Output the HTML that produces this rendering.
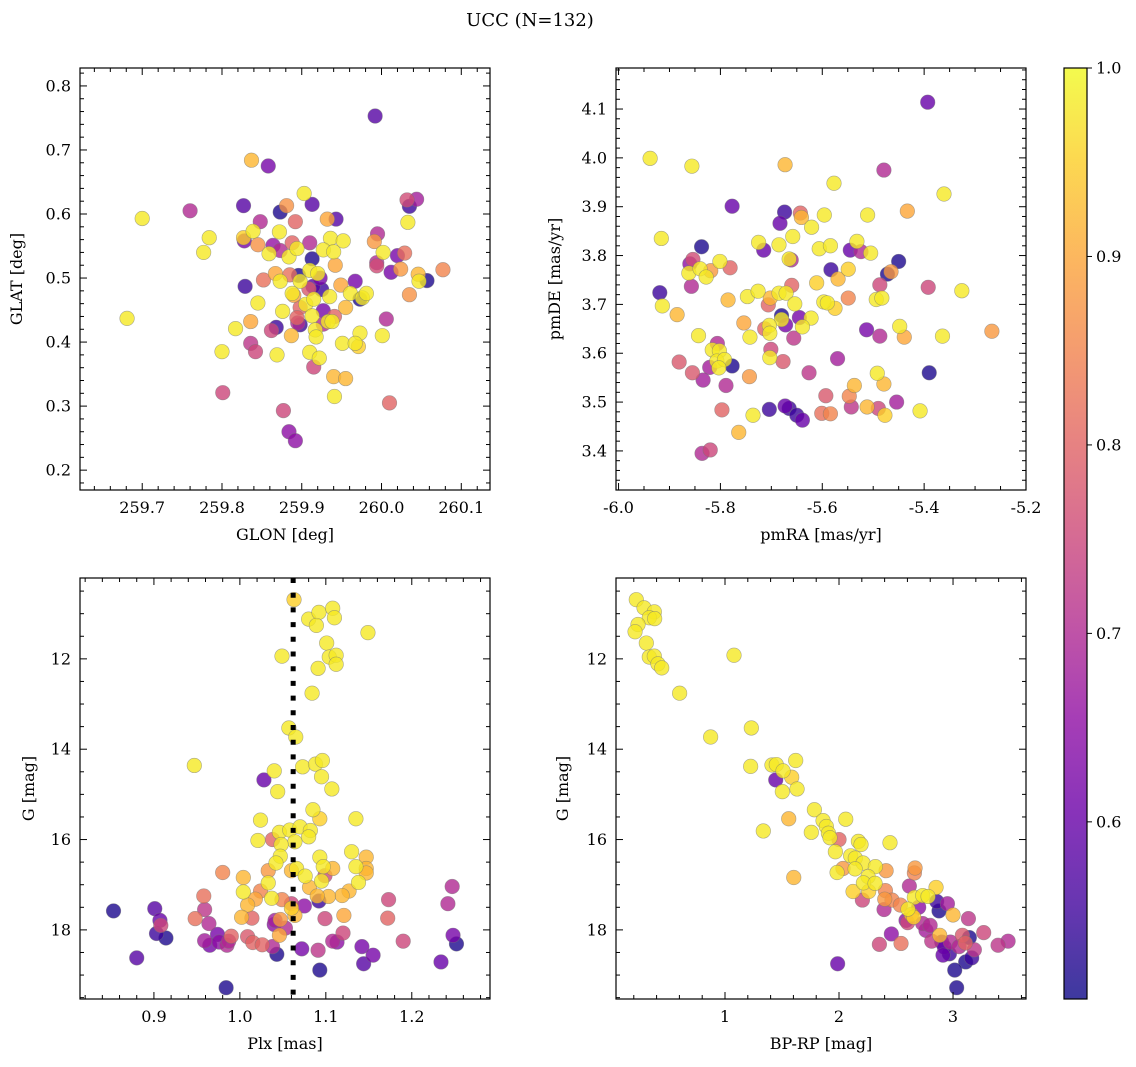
<!DOCTYPE html>
<html><head><meta charset="utf-8">
<style>
html,body{margin:0;padding:0;background:#fff;}
svg{display:block;font-family:"DejaVu Serif","Liberation Serif",serif;}
</style></head>
<body>
<svg id="fig" width="1136" height="1067" viewBox="0 0 1136 1067">
<text x="530" y="26" font-size="18" text-anchor="middle">UCC (N=132)</text>
</svg>
<script>
const p1x=[259.992,259.837,259.858,259.903,259.827,259.913,259.881,259.873,259.760,259.700,260.032,260.044,260.035,259.932,259.943,259.848,259.892,260.033,259.784,259.777,259.827,259.828,259.839,259.872,259.845,259.864,259.888,259.910,259.873,259.859,259.884,259.894,259.936,259.952,259.927,259.940,259.995,259.991,260.002,260.020,260.029,259.913,259.942,259.994,259.994,260.012,260.024,260.046,260.057,260.047,260.077,259.867,259.885,259.896,259.910,259.920,259.923,259.852,259.873,259.898,259.829,259.914,259.925,259.909,259.967,259.949,259.961,259.973,259.976,259.981,260.035,259.888,259.890,259.935,259.845,259.905,259.915,259.898,259.927,259.955,259.876,259.894,259.898,259.895,259.913,259.941,259.933,259.938,259.927,260.006,259.681,259.817,259.836,259.868,259.862,259.887,259.917,259.918,259.973,260.001,259.836,259.842,259.800,259.869,259.910,259.922,259.951,259.967,259.971,259.915,259.940,259.955,259.941,259.801,260.010,259.877,259.884,259.892];
const p1y=[0.753,0.684,0.675,0.632,0.613,0.615,0.613,0.603,0.605,0.593,0.622,0.623,0.612,0.592,0.592,0.588,0.588,0.587,0.563,0.540,0.563,0.558,0.573,0.572,0.552,0.551,0.555,0.555,0.543,0.538,0.533,0.546,0.562,0.558,0.544,0.541,0.569,0.557,0.540,0.535,0.539,0.530,0.520,0.524,0.519,0.509,0.514,0.506,0.496,0.495,0.513,0.507,0.505,0.504,0.512,0.507,0.500,0.497,0.495,0.495,0.487,0.487,0.482,0.483,0.495,0.489,0.476,0.467,0.469,0.476,0.474,0.476,0.473,0.471,0.461,0.459,0.467,0.454,0.449,0.454,0.448,0.438,0.427,0.430,0.441,0.440,0.432,0.432,0.428,0.436,0.437,0.421,0.432,0.423,0.418,0.410,0.419,0.408,0.414,0.410,0.398,0.385,0.385,0.380,0.384,0.375,0.398,0.398,0.393,0.361,0.346,0.343,0.315,0.321,0.305,0.293,0.260,0.246];
const p1c=[.58,.92,.62,.98,.58,.58,.87,.52,.7,.98,.76,.68,.55,.9,.58,.7,.8,.98,.98,.98,.95,.62,.98,.98,.87,.66,.8,.7,.7,.98,.98,.98,.98,.98,.98,.98,.7,.88,.98,.62,.82,.52,.9,.7,.76,.62,.88,.92,.52,.98,.85,.9,.82,.52,.98,.98,.62,.82,.98,.98,.55,.58,.55,.78,.62,.9,.98,.52,.98,.98,.87,.98,.9,.98,.98,.98,.98,.8,.62,.92,.98,.8,.55,.7,.98,.8,.98,.98,.7,.7,.98,.98,.9,.55,.75,.92,.98,.98,.98,.98,.72,.75,.98,.98,.98,.98,.98,.98,.95,.75,.92,.92,.98,.75,.8,.75,.65,.65];

const p2x=[-5.393,-5.938,-5.856,-5.673,-5.479,-5.577,-5.361,-5.777,-5.674,-5.643,-5.641,-5.683,-5.596,-5.511,-5.433,-5.621,-5.916,-5.658,-5.725,-5.685,-5.715,-5.606,-5.584,-5.532,-5.545,-5.524,-5.505,-5.837,-5.854,-5.860,-5.862,-5.840,-5.819,-5.828,-5.801,-5.781,-5.665,-5.661,-5.583,-5.549,-5.450,-5.472,-5.465,-5.857,-5.919,-5.914,-5.885,-5.785,-5.747,-5.726,-5.702,-5.685,-5.671,-5.660,-5.706,-5.654,-5.611,-5.569,-5.597,-5.590,-5.575,-5.549,-5.494,-5.483,-5.487,-5.392,-5.326,-5.267,-5.680,-5.680,-5.672,-5.645,-5.622,-5.639,-5.754,-5.713,-5.704,-5.703,-5.742,-5.656,-5.843,-5.513,-5.487,-5.448,-5.439,-5.364,-5.806,-5.816,-5.802,-5.807,-5.792,-5.803,-5.777,-5.821,-5.881,-5.855,-5.834,-5.789,-5.743,-5.701,-5.703,-5.677,-5.626,-5.570,-5.492,-5.479,-5.537,-5.390,-5.593,-5.547,-5.543,-5.512,-5.490,-5.477,-5.454,-5.408,-5.797,-5.736,-5.704,-5.673,-5.665,-5.650,-5.639,-5.601,-5.584,-5.764,-5.836,-5.820];
const p2y=[4.114,3.999,3.983,3.986,3.975,3.948,3.926,3.901,3.889,3.887,3.878,3.866,3.883,3.883,3.891,3.858,3.835,3.839,3.827,3.822,3.811,3.814,3.820,3.829,3.811,3.808,3.805,3.818,3.792,3.783,3.764,3.773,3.769,3.756,3.788,3.775,3.793,3.791,3.771,3.772,3.788,3.762,3.767,3.737,3.724,3.697,3.679,3.709,3.716,3.727,3.713,3.723,3.723,3.739,3.699,3.701,3.744,3.752,3.705,3.703,3.692,3.713,3.710,3.713,3.740,3.735,3.728,3.645,3.677,3.669,3.658,3.673,3.672,3.654,3.662,3.650,3.657,3.641,3.633,3.631,3.636,3.648,3.635,3.655,3.633,3.635,3.620,3.607,3.605,3.584,3.587,3.570,3.574,3.571,3.582,3.560,3.545,3.534,3.552,3.608,3.591,3.583,3.560,3.589,3.559,3.537,3.534,3.560,3.513,3.512,3.490,3.490,3.487,3.473,3.500,3.482,3.484,3.473,3.485,3.492,3.487,3.473,3.463,3.477,3.476,3.438,3.395,3.402];
const p2c=[.6,.98,.98,.92,.7,.98,.98,.6,.55,.8,.92,.6,.98,.98,.9,.98,.98,.98,.98,.98,.6,.98,.98,.98,.6,.7,.98,.52,.76,.65,.98,.98,.88,.98,.98,.8,.98,.7,.55,.95,.52,.52,.88,.7,.55,.98,.92,.92,.98,.98,.92,.98,.98,.8,.8,.98,.95,.92,.98,.98,.95,.85,.98,.98,.75,.75,.98,.88,.52,.98,.62,.62,.98,.98,.9,.8,.98,.98,.98,.72,.98,.62,.7,.98,.9,.98,.7,.98,.98,.98,.98,.98,.52,.68,.78,.78,.68,.7,.88,.75,.98,.78,.72,.68,.98,.92,.92,.52,.78,.85,.72,.92,.75,.95,.68,.98,.8,.98,.55,.6,.55,.55,.6,.82,.85,.92,.7,.75];

const p3x=[1.063,1.080,1.092,1.089,1.108,1.110,1.149,1.101,1.104,1.112,1.112,1.091,1.049,1.084,1.057,1.065,0.947,1.040,1.028,1.044,1.073,1.088,1.096,1.095,1.107,1.085,1.093,1.135,1.024,1.046,1.058,1.070,1.082,1.080,1.064,1.048,1.021,1.038,1.047,1.042,1.093,1.097,1.108,1.130,1.147,1.135,1.147,1.147,1.066,1.060,1.076,1.099,1.095,1.138,1.033,1.033,0.980,1.004,1.004,1.024,1.081,1.127,1.119,1.103,1.090,1.037,1.049,1.018,1.009,0.958,0.959,0.901,0.853,1.060,1.075,1.092,1.173,1.247,1.242,1.060,1.064,1.002,1.014,0.948,0.907,0.908,0.964,1.041,1.047,1.040,1.053,1.099,1.121,1.172,0.903,0.914,0.974,0.990,1.009,1.046,1.120,0.959,0.965,0.976,0.985,0.987,1.015,1.026,1.038,1.108,1.113,1.190,1.248,1.252,1.043,1.072,1.091,1.142,1.155,0.880,1.144,1.234,1.093,0.984];
const p3y=[10.69,11.12,10.97,11.26,10.88,11.09,11.42,11.65,11.96,11.92,12.12,12.21,11.94,12.76,13.53,13.73,14.36,14.48,14.68,14.94,14.39,14.33,14.25,14.61,14.88,15.34,15.54,15.54,15.57,15.84,15.79,15.72,15.80,15.94,16.05,16.11,16.02,16.00,16.37,16.52,16.39,16.60,16.64,16.27,16.39,16.60,16.64,16.74,16.64,16.69,16.81,16.80,16.92,16.95,16.69,16.96,16.73,16.84,17.16,17.14,17.06,17.14,17.24,17.26,17.25,17.30,17.33,17.32,17.45,17.25,17.55,17.53,17.58,17.42,17.47,17.36,17.33,17.04,17.42,17.52,17.68,17.72,17.74,17.75,17.79,17.90,17.86,17.79,17.77,17.88,17.96,17.75,17.68,17.74,18.08,18.18,18.10,18.14,18.15,18.12,18.07,18.24,18.34,18.27,18.34,18.25,18.28,18.33,18.37,18.25,18.27,18.25,18.12,18.31,18.54,18.42,18.45,18.37,18.56,18.62,18.75,18.71,18.89,19.28];
const p3c=[.95,.98,.98,.98,.98,.98,.98,.98,.98,.98,.98,.98,.98,.98,.98,.98,.98,.98,.6,.98,.98,.98,.98,.98,.98,.98,.95,.98,.98,.98,.98,.98,.98,.98,.98,.98,.98,.8,.98,.98,.98,.98,.92,.98,.92,.98,.92,.92,.98,.92,.98,.75,.98,.98,.88,.98,.85,.92,.98,.85,.92,.92,.92,.92,.92,.98,.85,.9,.92,.82,.72,.58,.52,.75,.65,.55,.75,.7,.7,.95,.92,.92,.8,.82,.6,.75,.7,.68,.88,.65,.7,.75,.9,.8,.55,.52,.62,.8,.78,.9,.75,.68,.62,.65,.7,.7,.8,.8,.7,.7,.65,.75,.62,.52,.52,.62,.72,.62,.62,.58,.58,.6,.52,.52];

const p4x=[0.222,0.290,0.380,0.336,0.383,0.237,0.211,0.310,0.336,0.380,0.412,0.445,1.079,0.602,1.231,0.874,1.225,1.412,1.450,1.620,1.509,1.585,1.445,1.503,1.632,1.784,1.559,1.860,2.059,1.336,1.757,1.889,1.907,1.921,2.000,2.170,2.193,2.447,1.968,2.102,2.143,2.211,2.319,2.141,2.035,1.983,2.413,2.667,2.661,2.255,2.214,2.316,1.603,2.123,2.260,2.407,2.617,2.851,2.205,2.401,2.465,2.538,2.661,2.734,2.781,2.857,2.951,2.395,2.605,2.635,2.699,2.877,3.000,2.588,2.655,2.734,2.799,3.135,2.459,2.883,3.082,3.143,3.269,2.813,2.901,2.977,3.053,3.108,3.187,3.395,3.483,2.354,2.544,2.924,2.912,2.968,3.164,3.111,3.015,1.988,3.032,2.602,2.763];
const p4y=[10.69,10.87,10.96,11.09,11.11,11.24,11.40,11.65,11.96,11.94,12.11,12.20,11.92,12.76,13.53,13.73,14.38,14.35,14.34,14.25,14.48,14.62,14.68,14.94,14.88,15.34,15.54,15.58,15.55,15.81,15.84,15.71,15.86,15.96,16.00,16.04,16.11,16.07,16.27,16.36,16.41,16.52,16.60,16.65,16.64,16.73,16.69,16.63,16.74,16.82,16.96,16.97,16.84,17.15,17.15,17.13,17.03,17.06,17.34,17.32,17.34,17.45,17.28,17.24,17.26,17.37,17.42,17.55,17.54,17.66,17.50,17.58,17.67,17.79,17.72,17.86,17.90,17.75,18.09,18.12,18.12,18.17,18.06,18.25,18.27,18.27,18.37,18.29,18.44,18.34,18.25,18.32,18.30,18.38,18.56,18.53,18.62,18.71,18.89,18.75,19.28,17.84,18.01];
const p4c=[.98,.98,.98,.98,.98,.98,.98,.98,.98,.98,.98,.98,.98,.98,.98,.98,.98,.98,.98,.98,.98,.95,.6,.98,.98,.98,.92,.98,.98,.98,.98,.98,.98,.98,.8,.98,.98,.98,.98,.98,.98,.98,.98,.98,.88,.98,.88,.88,.85,.98,.98,.98,.92,.95,.95,.85,.7,.95,.75,.88,.85,.85,.98,.98,.98,.55,.68,.7,.98,.92,.65,.52,.92,.65,.95,.7,.7,.72,.65,.92,.78,.52,.75,.72,.58,.7,.7,.8,.72,.72,.7,.75,.82,.6,.6,.55,.55,.52,.52,.6,.52,.75,.68];

const cbTicks=[0.6,0.7,0.8,0.9,1.0];
const vmin=0.506, vmax=1.0;

const NS='http://www.w3.org/2000/svg';
const svg=document.getElementById('fig');
function mk(tag,attrs,parent){const e=document.createElementNS(NS,tag);for(const k in attrs)e.setAttribute(k,attrs[k]);(parent||svg).appendChild(e);return e;}
const stops=['#0d0887','#41049d','#6a00a8','#8f0da4','#b12a90','#cc4778','#e16462','#f2844b','#fca636','#fcce25','#f0f921'];
function hex(h){return [parseInt(h.substr(1,2),16),parseInt(h.substr(3,2),16),parseInt(h.substr(5,2),16)];}
function plasma(t){t=Math.max(0,Math.min(1,t));const f=t*10,i=Math.min(9,Math.floor(f)),r=f-i;const a=hex(stops[i]),b=hex(stops[i+1]);return 'rgb('+a.map((v,k)=>Math.round(v+(b[k]-v)*r)).join(',')+')';}

function panel(cfg){
  const {L,T,W,H,xmin,xmax,ymin,ymax,inv,xs,ys,cs,xMaj,yMaj,xMinStep,yMinStep,xl,yl,name,xfmt,yfmt}=cfg;
  const g=mk('g',{});
  
  
  const X=v=>L+(v-xmin)/(xmax-xmin)*W;
  const Y=v=>inv? T+(v-ymin)/(ymax-ymin)*H : T+H-(v-ymin)/(ymax-ymin)*H;
  const clipId=name+'-clip';
  const cp=mk('clipPath',{id:clipId},g);mk('rect',{x:L,y:T,width:W,height:H},cp);
  const pts=mk('g',{'clip-path':'url(#'+clipId+')'},g);
  
  
  const order=xs.map((_,i)=>i).sort((a,b)=>cs[a]-cs[b]);
  for(const i of order){
    const c=mk('circle',{cx:X(xs[i]),cy:Y(ys[i]),r:7.3,fill:plasma((cs[i]-vmin)/(vmax-vmin)),'fill-opacity':0.8,stroke:'#777','stroke-opacity':0.6,'stroke-width':0.6},pts);
    
    
  }
  if(cfg.vline!==undefined){
    const ln=mk('line',{x1:X(cfg.vline),x2:X(cfg.vline),y1:T,y2:T+H,stroke:'#000','stroke-width':5,'stroke-dasharray':'5,9.7'},g);
    
    
  }
  mk('rect',{x:L,y:T,width:W,height:H,fill:'none',stroke:'#000','stroke-width':1.2},g);
  const tk=mk('g',{stroke:'#000','stroke-width':1},g);
  const lo=Math.min(xmin,xmax),hi=Math.max(xmin,xmax);
  for(let v=Math.ceil(lo/xMinStep-1e-6)*xMinStep;v<=hi+1e-9;v+=xMinStep){
    const isMaj=xMaj.some(m=>Math.abs(m-v)<xMinStep/10);const len=isMaj?7:4;const x=X(v);
    mk('line',{x1:x,x2:x,y1:T+H,y2:T+H-len},tk);mk('line',{x1:x,x2:x,y1:T,y2:T+len},tk);
  }
  const ylo=Math.min(ymin,ymax),yhi=Math.max(ymin,ymax);
  for(let v=Math.ceil(ylo/yMinStep-1e-6)*yMinStep;v<=yhi+1e-9;v+=yMinStep){
    const isMaj=yMaj.some(m=>Math.abs(m-v)<yMinStep/10);const len=isMaj?7:4;const y=Y(v);
    mk('line',{x1:L,x2:L+len,y1:y,y2:y},tk);mk('line',{x1:L+W,x2:L+W-len,y1:y,y2:y},tk);
  }
  xMaj.forEach(v=>{const t=mk('text',{x:X(v),y:T+H+23,'font-size':16,'text-anchor':'middle'},g);t.textContent=xfmt(v);
    });
  yMaj.forEach(v=>{const t=mk('text',{x:L-9,y:Y(v)+5.5,'font-size':16,'text-anchor':'end'},g);t.textContent=yfmt(v);
    });
  const xt=mk('text',{x:L+W/2,y:T+H+50,'font-size':16,'text-anchor':'middle'},g);xt.textContent=xl;
  
  const yx=cfg.ylx, yy=T+H/2;
  const yt=mk('text',{x:yx,y:yy,'font-size':16,'text-anchor':'middle',transform:'rotate(-90 '+yx+' '+yy+')'},g);yt.textContent=yl;
  
}
const f1=v=>v.toFixed(1), f0=v=>v.toFixed(0);
panel({name:'glon-glat',L:80,T:68,W:410,H:422,xmin:259.622,xmax:260.136,ymin:0.169,ymax:0.828,xs:p1x,ys:p1y,cs:p1c,
  xMaj:[259.7,259.8,259.9,260.0,260.1],yMaj:[0.2,0.3,0.4,0.5,0.6,0.7,0.8],xMinStep:0.02,yMinStep:0.02,xl:'GLON [deg]',yl:'GLAT [deg]',xfmt:f1,yfmt:f1,ylx:22});
panel({name:'pmra-pmde',L:616,T:68,W:410,H:422,xmin:-6.005,xmax:-5.2,ymin:3.32,ymax:4.184,xs:p2x,ys:p2y,cs:p2c,
  xMaj:[-6.0,-5.8,-5.6,-5.4,-5.2],yMaj:[3.4,3.5,3.6,3.7,3.8,3.9,4.0,4.1],xMinStep:0.05,yMinStep:0.02,xl:'pmRA [mas/yr]',yl:'pmDE [mas/yr]',xfmt:f1,yfmt:f1,ylx:560});
panel({name:'plx-g',L:80,T:578,W:410,H:421,xmin:0.814,xmax:1.291,ymin:10.21,ymax:19.53,inv:true,xs:p3x,ys:p3y,cs:p3c,vline:1.062,
  xMaj:[0.9,1.0,1.1,1.2],yMaj:[12,14,16,18],xMinStep:0.02,yMinStep:0.5,xl:'Plx [mas]',yl:'G [mag]',xfmt:f1,yfmt:f0,ylx:34});
panel({name:'bprp-g',L:616,T:578,W:410,H:421,xmin:0.044,xmax:3.64,ymin:10.21,ymax:19.53,inv:true,xs:p4x,ys:p4y,cs:p4c,
  xMaj:[1,2,3],yMaj:[12,14,16,18],xMinStep:0.2,yMinStep:0.5,xl:'BP-RP [mag]',yl:'G [mag]',xfmt:f0,yfmt:f0,ylx:568});

const cb=mk('g',{});


const defs=mk('defs',{},cb);
const lg=mk('linearGradient',{id:'cbg',x1:0,y1:1,x2:0,y2:0},defs);
for(let i=0;i<=20;i++){mk('stop',{offset:i/20,'stop-color':plasma(i/20),'stop-opacity':0.8},lg);}
const CL=1064,CT=68,CW=23,CH=931;
mk('rect',{x:CL,y:CT,width:CW,height:CH,fill:'url(#cbg)',stroke:'#000','stroke-width':1.2},cb);
const CY=v=>CT+CH-(v-vmin)/(vmax-vmin)*CH;
cbTicks.forEach(v=>{const y=CY(v);mk('line',{x1:CL+CW,x2:CL+CW+5,y1:y,y2:y,stroke:'#000','stroke-width':1},cb);
  const t=mk('text',{x:CL+CW+9,y:y+5.5,'font-size':16},cb);t.textContent=v.toFixed(1);
  });
</script>
</body></html>
